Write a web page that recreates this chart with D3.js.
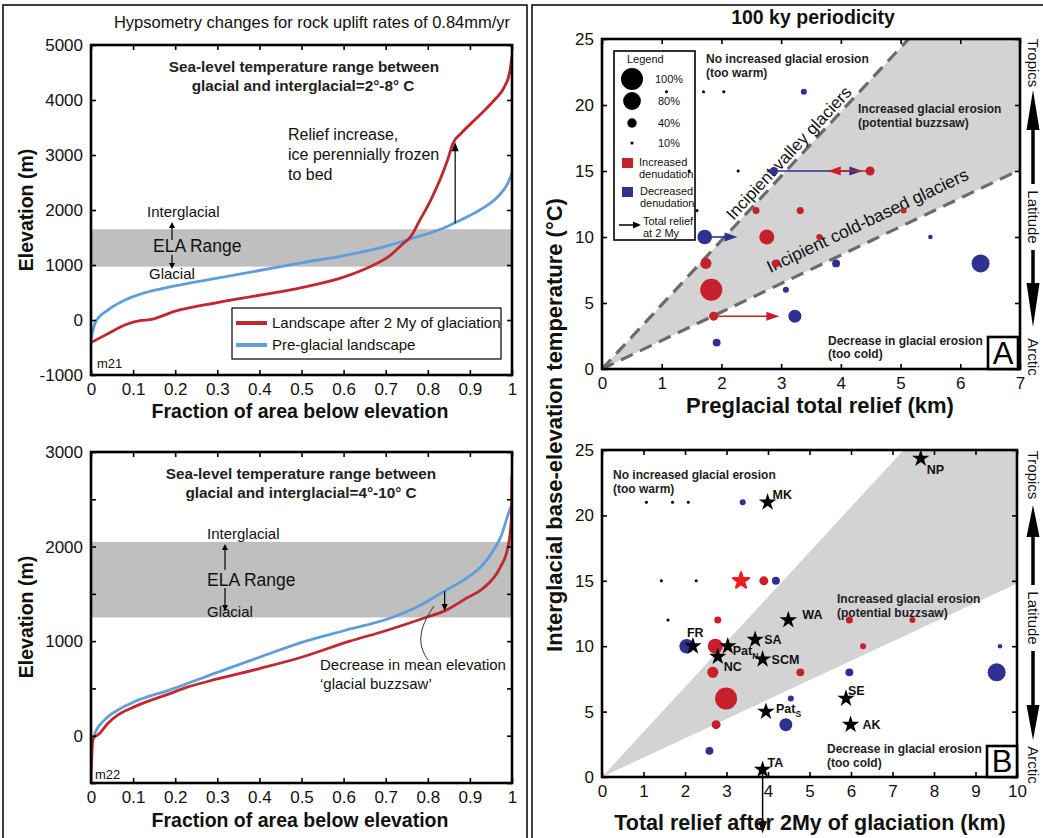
<!DOCTYPE html>
<html><head><meta charset="utf-8">
<script src="https://cdn.jsdelivr.net/npm/d3@7"></script>
<style>body{margin:0;background:#fff}svg{display:block}</style>
</head><body>
<svg id="c" width="1043" height="838"></svg>
<script>
// ---------------- DATA ----------------
// m21 hypsometry (top left)
const m21PreFrac  = [0,0.01,0.04,0.08,0.13,0.2,0.3,0.4,0.5,0.6,0.7,0.77,0.83,0.862,0.9,0.93,0.966,0.99,1.0];
const m21PreElev  = [-350,-50,180,360,500,620,760,900,1040,1170,1340,1500,1650,1760,1900,2030,2240,2485,2670];
const m21PostFrac = [0,0.04,0.08,0.12,0.14,0.2,0.3,0.4,0.5,0.6,0.66,0.71,0.74,0.76,0.78,0.807,0.847,0.86,0.88,0.92,0.958,0.982,0.994,1.0];
const m21PostElev = [-410,-250,-90,-8,5,160,315,450,590,780,960,1170,1380,1520,1800,2180,2910,3215,3400,3700,4000,4240,4485,4790];
const m21ELA = [970, 1650];
// m22 hypsometry (bottom left)
const m22PreFrac  = [0,0.01,0.033,0.065,0.105,0.184,0.3,0.4,0.51,0.6,0.715,0.774,0.84,0.892,0.931,0.96,0.975,0.99,1.0];
const m22PreElev  = [-150,30,170,275,363,480,670,830,1000,1110,1250,1360,1530,1667,1808,1990,2120,2330,2450];
const m22PostFrac = [0,0.005,0.017,0.041,0.065,0.105,0.184,0.22,0.3,0.4,0.5,0.615,0.7,0.795,0.84,0.892,0.932,0.971,0.99,0.998,1.0];
const m22PostElev = [-450,-25,10,134,222,310,440,500,600,710,830,1000,1110,1250,1320,1455,1561,1773,1987,2265,2760];
const m22ELA = [1250, 2050];
const fracTicks = [0,0.1,0.2,0.3,0.4,0.5,0.6,0.7,0.8,0.9,1];
const m21ElevTicks = [-1000,0,1000,2000,3000,4000,5000];
const m22ElevTicks = [-500,0,500,1000,1500,2000,2500,3000];

// Panel A (preglacial relief)
const aRelief = [1.08,1.70,2.04,2.28,1.46,1.59, 3.38,2.88,4.49,2.58,3.32,5.05,1.72,2.76,3.64,5.50,1.74,2.91,3.92,6.34,1.83,3.08,1.87,3.23,1.92];
const aTemp   = [21,21,21,15,15,12, 21,15,15,12,12,12,10,10,10,10,8,8,8,8,6,6,4,4,2];
const aPct    = [10,10,10,10,10,10, 24,33,38,29,29,24,65,67,24,17,48,33,33,81,100,24,38,57,33];
const aKind   = ['k','k','k','k','k','k','b','b','r','r','r','r','b','r','r','b','r','r','b','b','r','b','r','b','b'];
const aArrowFrom = [2.88,4.49,1.72,1.87];
const aArrowTo   = [4.36,3.78,2.27,2.97];
const aArrowTemp = [15,15,10,4];
const aArrowKind = ['b','r','b','r'];
const aWedgeSlopes = [4.87, 2.157];   // upper (valley glaciers), lower (cold-based)

// Panel B (relief after 2 My)
const bRelief = [1.07,1.70,2.08,1.43,2.27,1.59, 3.39,3.90,4.19,2.79,5.96,7.48,2.04,2.73,6.29,9.59,2.67,4.78,5.96,9.51,2.99,4.55,2.75,4.43,2.59];
const bTemp   = [21,21,21,15,15,12, 21,15,15,12,12,12,10,10,10,10,8,8,8,8,6,6,4,4,2];
const bPct    = [10,10,10,10,10,10, 24,38,33,29,29,24,65,67,24,17,48,33,33,81,100,24,38,57,33];
const bKind   = ['k','k','k','k','k','k','b','r','b','r','r','r','b','r','r','b','r','r','b','b','r','b','r','b','b'];
const bWedgeSlopes = [3.44, 1.48];
const starName   = ['NP','MK','WA','SA','FR','Pat','NC','SCM','SE','Pat','AK','TA'];
const starSub    = ['','','','','','N','','','','S','',''];
const starRelief = [7.68,3.99,4.49,3.69,2.19,3.03,2.79,3.87,5.88,3.95,5.99,3.87];
const starTemp   = [24.35,21.0,12.0,10.5,10.0,10.0,9.2,9.0,6.0,5.0,4.0,0.56];
const redStar = [3.35, 15];
const taArrowEndTemp = -4.3;
const legendPct = [100,80,40,10];
const reliefTicksA = [0,1,2,3,4,5,6,7];
const reliefTicksB = [0,1,2,3,4,5,6,7,8,9,10];
const tempTicks = [0,5,10,15,20,25];

// ---------------- STYLE ----------------
const FONT = '"Liberation Sans", Arial, Helvetica, sans-serif';
const RED_LINE = '#c1272d', BLUE_LINE = '#5f9edb';
const RED = '#c5202c', BLUE = '#2e3190', BLACK = '#000';
const kindColor = k => k === 'r' ? RED : k === 'b' ? BLUE : BLACK;
const svg = d3.select('#c');
svg.append('rect').attr('width',1043).attr('height',838).attr('fill','#fff');

// outer panel frames
svg.append('rect').attr('x',3).attr('y',5).attr('width',524).attr('height',845).attr('fill','none').attr('stroke','#000').attr('stroke-width',1.5);
svg.append('rect').attr('x',532).attr('y',5).attr('width',530).attr('height',845).attr('fill','none').attr('stroke','#000').attr('stroke-width',1.5);

function txt(g, x, y, s, o = {}) {
  return g.append('text').attr('x', x).attr('y', y).text(s)
    .attr('font-family', FONT).attr('font-size', o.fs || 14)
    .attr('font-weight', o.fw || 'normal').attr('fill', o.fill || '#111')
    .attr('text-anchor', o.anchor || 'start');
}

function drawAxes(g, x, y, o) {
  const [x0, x1] = x.range(), [y0, y1] = y.range();
  const style = sel => {
    sel.select('.domain').remove();
    sel.selectAll('line').attr('stroke', '#000').attr('stroke-width', 1.6);
    sel.selectAll('text').attr('font-family', FONT).attr('font-size', o.fs).attr('fill', '#111');
  };
  g.append('g').attr('transform', `translate(0,${y0})`)
    .call(d3.axisBottom(x).tickValues(o.xt).tickSize(-o.ts).tickPadding(o.pad).tickFormat(o.xf)).call(style);
  g.append('g').attr('transform', `translate(0,${y1})`)
    .call(d3.axisTop(x).tickValues(o.xt).tickSize(-o.ts).tickFormat('')).call(style);
  g.append('g').attr('transform', `translate(${x0},0)`)
    .call(d3.axisLeft(y).tickValues(o.yt).tickSize(-o.ts).tickPadding(o.pad).tickFormat(o.yf)).call(style);
  g.append('g').attr('transform', `translate(${x1},0)`)
    .call(d3.axisRight(y).tickValues(o.yt).tickSize(-o.ts).tickFormat('')).call(style);
  g.append('rect').attr('x', x0).attr('y', y1).attr('width', x1 - x0).attr('height', y0 - y1)
    .attr('fill', 'none').attr('stroke', '#000').attr('stroke-width', 2.6);
}

function arrowHead(g, tipX, tipY, dirX, dirY, len, half, color) {
  const bx = tipX - dirX * len, by = tipY - dirY * len;
  const px = -dirY, py = dirX;
  g.append('path')
    .attr('d', `M${tipX},${tipY}L${bx + px * half},${by + py * half}L${bx - px * half},${by - py * half}Z`)
    .attr('fill', color);
}
function arrow(g, x0, y0, x1, y1, color, w, len, half) {
  const dx = x1 - x0, dy = y1 - y0, L = Math.hypot(dx, dy), ux = dx / L, uy = dy / L;
  g.append('line').attr('x1', x0).attr('y1', y0).attr('x2', x1 - ux * len * 0.8).attr('y2', y1 - uy * len * 0.8)
    .attr('stroke', color).attr('stroke-width', w);
  arrowHead(g, x1, y1, ux, uy, len, half, color);
}

// ---------------- HYPSOMETRY PANELS ----------------
function hypso(id, top, bottom, yDomain, yTicks, yFmt, ela, preF, preE, postF, postE) {
  const g = svg.append('g');
  const x = d3.scaleLinear([0, 1], [91, 512]);
  const y = d3.scaleLinear(yDomain, [bottom, top]);
  const clipId = 'clip' + id;
  g.append('clipPath').attr('id', clipId).append('rect').attr('x', 91).attr('y', top).attr('width', 421).attr('height', bottom - top);
  g.append('rect').attr('x', 91).attr('y', y(ela[1])).attr('width', 421).attr('height', y(ela[0]) - y(ela[1])).attr('fill', '#bfbfbf');
  const line = d3.line().x(d => x(d[0])).y(d => y(d[1])).curve(d3.curveMonotoneX);
  const cg = g.append('g').attr('clip-path', `url(#${clipId})`);
  cg.append('path').datum(d3.zip(preF, preE)).attr('d', line).attr('fill', 'none').attr('stroke', BLUE_LINE).attr('stroke-width', 2.8);
  cg.append('path').datum(d3.zip(postF, postE)).attr('d', line).attr('fill', 'none').attr('stroke', RED_LINE).attr('stroke-width', 2.8);
  drawAxes(g, x, y, { xt: fracTicks, yt: yTicks, xf: d => d, yf: yFmt, ts: 5, pad: 8, fs: 17 });
  return { g, x, y };
}

// top-left
const P1 = hypso('1', 45, 375, [-1000, 5000], m21ElevTicks, d => d, m21ELA, m21PreFrac, m21PreElev, m21PostFrac, m21PostElev);
txt(svg, 312, 28, 'Hypsometry changes for rock uplift rates of 0.84mm/yr', { fs: 16.5, anchor: 'middle' });
txt(svg, 304, 72, 'Sea-level temperature range between', { fs: 15.3, fw: 'bold', anchor: 'middle', fill: '#222' });
txt(svg, 303, 91, 'glacial and interglacial=2°-8° C', { fs: 15.3, fw: 'bold', anchor: 'middle', fill: '#222' });
txt(svg, 288, 140, 'Relief increase,', { fs: 16 });
txt(svg, 288, 160, 'ice perennially frozen', { fs: 16 });
txt(svg, 288, 180, 'to bed', { fs: 16 });
arrow(svg, P1.x(0.865), P1.y(1760), P1.x(0.865), P1.y(3230), '#000', 1.2, 9, 3.5);
txt(svg, 147, 217, 'Interglacial', { fs: 15 });
txt(svg, 153, 252, 'ELA Range', { fs: 17.5 });
txt(svg, 149, 279, 'Glacial', { fs: 15 });
arrow(svg, 172, 240, 172, 222, '#000', 1.2, 6, 3);
arrow(svg, 172, 255, 172, 269, '#000', 1.2, 6, 3);
// legend
svg.append('rect').attr('x', 232).attr('y', 308).attr('width', 269).attr('height', 51).attr('fill', '#fff').attr('stroke', '#000').attr('stroke-width', 1.2);
svg.append('line').attr('x1', 236).attr('x2', 267).attr('y1', 323).attr('y2', 323).attr('stroke', RED_LINE).attr('stroke-width', 4);
svg.append('line').attr('x1', 236).attr('x2', 267).attr('y1', 345).attr('y2', 345).attr('stroke', BLUE_LINE).attr('stroke-width', 4);
txt(svg, 272, 328, 'Landscape after 2 My of glaciation', { fs: 15 });
txt(svg, 272, 350, 'Pre-glacial landscape', { fs: 15 });
txt(svg, 97, 368, 'm21', { fs: 13 });
svg.append('text').attr('transform', 'translate(33,210) rotate(-90)').attr('text-anchor', 'middle')
  .attr('font-family', FONT).attr('font-size', 19.5).attr('font-weight', 'bold').attr('fill', '#111').text('Elevation (m)');
txt(svg, 300, 418, 'Fraction of area below elevation', { fs: 19.5, fw: 'bold', anchor: 'middle' });

// bottom-left
const P2 = hypso('2', 452, 783, [-500, 3000], m22ElevTicks, d => (d % 1000 === 0 ? d : ''), m22ELA, m22PreFrac, m22PreElev, m22PostFrac, m22PostElev);
txt(svg, 301, 479, 'Sea-level temperature range between', { fs: 15.3, fw: 'bold', anchor: 'middle', fill: '#222' });
txt(svg, 301, 498, 'glacial and interglacial=4°-10° C', { fs: 15.3, fw: 'bold', anchor: 'middle', fill: '#222' });
txt(svg, 207, 539, 'Interglacial', { fs: 15 });
txt(svg, 207, 586, 'ELA Range', { fs: 17.5 });
txt(svg, 207, 617, 'Glacial', { fs: 15 });
arrow(svg, 225, 570, 225, 544, '#000', 1.2, 6, 3);
arrow(svg, 225, 588, 225, 611, '#000', 1.2, 6, 3);
arrow(svg, P2.x(0.84), P2.y(1530), P2.x(0.84), P2.y(1318), '#000', 1.2, 7, 3);
svg.append('path').attr('d', 'M428,660 C418,646 417,630 434,606').attr('fill', 'none').attr('stroke', '#333').attr('stroke-width', 1);
txt(svg, 320, 670, 'Decrease in mean elevation', { fs: 15 });
txt(svg, 320, 689, '\u2018glacial buzzsaw\u2019', { fs: 15 });
txt(svg, 95, 779, 'm22', { fs: 13 });
svg.append('text').attr('transform', 'translate(33,617) rotate(-90)').attr('text-anchor', 'middle')
  .attr('font-family', FONT).attr('font-size', 19.5).attr('font-weight', 'bold').attr('fill', '#111').text('Elevation (m)');
txt(svg, 300, 827, 'Fraction of area below elevation', { fs: 19.5, fw: 'bold', anchor: 'middle' });

// ---------------- SCATTER PANELS ----------------
const rScale = d3.scaleLinear([0, 100], [0.5, 11]);

function scatterPanel(top, bottom, xMax, xRight, xTicks, slopes, dashed) {
  const g = svg.append('g');
  const x = d3.scaleLinear([0, xMax], [602, xRight]);
  const y = d3.scaleLinear([0, 25], [bottom, top]);
  const clip = 'clipS' + top;
  g.append('clipPath').attr('id', clip).append('rect').attr('x', 602).attr('y', top).attr('width', xRight - 602).attr('height', bottom - top);
  const cg = g.append('g').attr('clip-path', `url(#${clip})`);
  const up = slopes[0], lo = slopes[1];
  const wedge = [[0, 0], [25 / up, 25], [xMax, 25], [xMax, lo * xMax], [0, 0]];
  cg.append('path').attr('d', d3.line().x(d => x(d[0])).y(d => y(d[1]))(wedge)).attr('fill', '#d3d3d3');
  if (dashed) {
    [[[0, 0], [25 / up, 25]], [[0, 0], [xMax, lo * xMax]]].forEach(seg => {
      cg.append('line').attr('x1', x(seg[0][0])).attr('y1', y(seg[0][1])).attr('x2', x(seg[1][0])).attr('y2', y(seg[1][1]))
        .attr('stroke', '#6b6b6b').attr('stroke-width', 3.2).attr('stroke-dasharray', '13,8');
    });
  }
  drawAxes(g, x, y, { xt: xTicks, yt: tempTicks, xf: d => d, yf: d => d, ts: 5, pad: 8, fs: 17 });
  return { g, cg, x, y };
}

function dots(p, rel, tmp, pct, kind) {
  p.g.append('g').selectAll('circle').data(d3.range(rel.length)).join('circle')
    .attr('cx', i => p.x(rel[i])).attr('cy', i => p.y(tmp[i])).attr('r', i => rScale(pct[i]))
    .attr('fill', i => kindColor(kind[i]));
}

function regionLabels(g, pos) {
  const lines = [['No increased glacial erosion', '(too warm)'], ['Increased glacial erosion', '(potential buzzsaw)'], ['Decrease in glacial erosion', '(too cold)']];
  lines.forEach((l, i) => {
    txt(g, pos[i][0], pos[i][1], l[0], { fs: 12, fw: 'bold', fill: '#222' });
    txt(g, pos[i][0], pos[i][2], l[1], { fs: 12, fw: 'bold', fill: '#222' });
  });
}

function letterBox(g, x0, y0, x1, y1, s) {
  g.append('rect').attr('x', x0).attr('y', y0).attr('width', x1 - x0).attr('height', y1 - y0).attr('fill', '#fff').attr('stroke', '#000').attr('stroke-width', 2.6);
  txt(g, (x0 + x1) / 2, y1 - 5, s, { fs: 31, anchor: 'middle', fill: '#000' });
}

function latitude(g, cx, yT, tipUp, baseUp, latY, baseDn, tipDn, yA) {
  const lab = (yy, s) => g.append('text').attr('transform', `translate(${cx},${yy}) rotate(90)`).attr('text-anchor', 'middle')
    .attr('dominant-baseline', 'central').attr('font-family', FONT).attr('font-size', 15).attr('fill', '#111').text(s);
  lab(yT, 'Tropics'); lab(latY, 'Latitude'); lab(yA, 'Arctic');
  g.append('line').attr('x1', cx).attr('x2', cx).attr('y1', baseUp).attr('y2', latY - 33).attr('stroke', '#000').attr('stroke-width', 3.5);
  g.append('line').attr('x1', cx).attr('x2', cx).attr('y1', latY + 33).attr('y2', baseDn).attr('stroke', '#000').attr('stroke-width', 3.5);
  arrowHead(g, cx, tipUp, 0, -1, baseUp - tipUp, 6.5, '#000');
  arrowHead(g, cx, tipDn, 0, 1, tipDn - baseDn, 6.5, '#000');
}

// Panel A
const A = scatterPanel(39, 369, 7, 1020, reliefTicksA, aWedgeSlopes, true);
A.g.append('text').attr('transform', `translate(793,157) rotate(-47)`).attr('text-anchor', 'middle')
  .attr('font-family', FONT).attr('font-size', 17).attr('fill', '#111').text('Incipient valley glaciers');
A.g.append('text').attr('transform', `translate(870,226) rotate(-25.3)`).attr('text-anchor', 'middle')
  .attr('font-family', FONT).attr('font-size', 17.5).attr('fill', '#111').text('Incipient cold-based glaciers');
regionLabels(A.g, [[706, 63, 77], [858, 113, 127], [828, 345, 358]]);
// legend A
const lg = A.g.append('g');
lg.append('rect').attr('x', 614).attr('y', 51).attr('width', 81).attr('height', 189).attr('fill', '#fff').attr('stroke', '#000').attr('stroke-width', 1.6);
txt(lg, 627, 63, 'Legend', { fs: 11 });
const legY = [79, 101, 123, 143];
legendPct.forEach((p, i) => {
  lg.append('circle').attr('cx', 632).attr('cy', legY[i]).attr('r', rScale(p)).attr('fill', '#000');
  txt(lg, i === 0 ? 655 : 658, legY[i] + 4, p + '%', { fs: 11 });
});
lg.append('rect').attr('x', 622).attr('y', 158).attr('width', 11).attr('height', 10).attr('fill', RED);
txt(lg, 639, 166, 'Increased', { fs: 11 });
txt(lg, 639, 178, 'denudation', { fs: 11 });
lg.append('rect').attr('x', 622).attr('y', 187).attr('width', 11).attr('height', 10).attr('fill', BLUE);
txt(lg, 640, 195, 'Decreased', { fs: 11 });
txt(lg, 640, 207, 'denudation', { fs: 11 });
arrow(lg, 619, 225, 641, 225, '#000', 1.5, 8, 3.5);
txt(lg, 643, 225, 'Total relief', { fs: 11 });
txt(lg, 643, 237, 'at 2 My', { fs: 11 });
dots(A, aRelief, aTemp, aPct, aKind);
aArrowFrom.forEach((f, i) => {
  arrow(A.g, A.x(f), A.y(aArrowTemp[i]), A.x(aArrowTo[i]), A.y(aArrowTemp[i]), kindColor(aArrowKind[i]), 1.6, 13, 4.5);
});
letterBox(A.g, 988, 337, 1018, 369, 'A');
latitude(svg, 1033, 63, 90, 130, 217, 283, 327, 357);
txt(svg, 813, 24, '100 ky periodicity', { fs: 19.5, fw: 'bold', anchor: 'middle', fill: '#111' });
txt(svg, 820, 413, 'Preglacial total relief (km)', { fs: 22, fw: 'bold', anchor: 'middle' });

// Panel B
const B = scatterPanel(450, 777, 10, 1017, reliefTicksB, bWedgeSlopes, false);
regionLabels(B.g, [[613, 479, 493], [837, 603, 617], [827, 753, 767]]);
dots(B, bRelief, bTemp, bPct, bKind);
B.g.append('path').attr('transform', `translate(${B.x(redStar[0])},${B.y(redStar[1])})`)
  .attr('d', d3.symbol(d3.symbolStar).size(80)()).attr('fill', '#ee1c1c').attr('stroke', '#ee1c1c').attr('stroke-width', 2.2).attr('stroke-linejoin', 'round');
// TA arrow
arrow(svg, B.x(starRelief[11]), B.y(starTemp[11]), B.x(starRelief[11]), B.y(taArrowEndTemp), '#000', 1.5, 12, 4.5);
const starDx = [6, 5, 14, 9, -6, 5, 6, 9, 2, 10, 12, 5];
const starDy = [15, -3, -1, 4, -9, 9, 14, 5, -4, 1, 4, -3];
starName.forEach((n, i) => {
  const sx = B.x(starRelief[i]), sy = B.y(starTemp[i]);
  B.g.append('path').attr('transform', `translate(${sx},${sy})`).attr('d', d3.symbol(d3.symbolStar).size(95)()).attr('fill', '#000');
  const t = txt(B.g, sx + starDx[i], sy + starDy[i], n, { fs: 12.5, fw: 'bold', fill: '#111' });
  if (starSub[i]) t.append('tspan').attr('dy', 4).attr('font-size', 8.5).text(starSub[i]);
});
letterBox(B.g, 987, 746, 1017, 777, 'B');
latitude(svg, 1033, 475, 505, 537, 618, 705, 740, 765);
txt(svg, 810, 830, 'Total relief after 2My of glaciation (km)', { fs: 21.5, fw: 'bold', anchor: 'middle' });
svg.append('text').attr('transform', 'translate(562,425) rotate(-90)').attr('text-anchor', 'middle')
  .attr('font-family', FONT).attr('font-size', 22).attr('font-weight', 'bold').attr('fill', '#111')
  .text('Interglacial base-elevation temperature (°C)');
</script>
</body></html>
